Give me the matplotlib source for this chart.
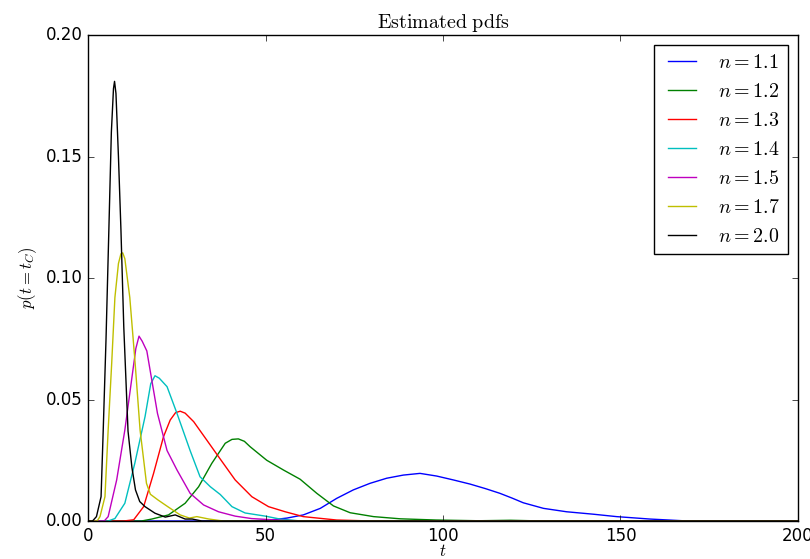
import numpy as np
import matplotlib
matplotlib.use('Agg')
import matplotlib.pyplot as plt

plt.style.use('classic')
plt.rcParams['mathtext.fontset'] = 'cm'

# estimated pdfs, one (t, p) list per n
t_11 = [0, 45, 51.3, 56, 60.6, 65.4, 70, 74.7, 79.4, 84.1, 88.8, 93.5, 98.2, 102.9, 107.6,
        112, 116, 119.5, 122.6, 128.3, 134.8, 142.3, 148.9, 158.3, 167.6, 180, 200]
p_11 = [0, 0, 0.0004, 0.0012, 0.0025, 0.0052, 0.0093, 0.0128, 0.0155, 0.0176, 0.0189, 0.0196,
        0.0185, 0.0169, 0.0152, 0.0133, 0.0114, 0.0094, 0.0075, 0.0052, 0.0038, 0.0028, 0.0018,
        0.0008, 0.0001, 0, 0]

t_12 = [0, 15, 17.9, 22.6, 27.3, 31.1, 34.8, 38.6, 40.5, 42.3, 44, 45.6, 50.3, 55, 59.7, 64.4,
        69.1, 73.8, 80.4, 87.9, 98, 110, 119, 125, 135, 200]
p_12 = [0, 0, 0.0008, 0.0025, 0.0073, 0.0141, 0.0237, 0.032, 0.0336, 0.0338, 0.0328, 0.0306,
        0.025, 0.021, 0.0172, 0.0114, 0.0062, 0.0034, 0.0018, 0.0009, 0.0004, 0.0001, 0.0003,
        0.0001, 0, 0]

t_13 = [0, 10, 12.8, 15.6, 18.4, 21.2, 23.1, 24.6, 25.9, 27.3, 29.7, 33.4, 36.7, 41.4, 46.1,
        50.8, 55.5, 60.6, 70, 80, 200]
p_13 = [0, 0, 0.0005, 0.0059, 0.0196, 0.0347, 0.0416, 0.0446, 0.0452, 0.0444, 0.0409, 0.0333,
        0.0265, 0.0169, 0.01, 0.0059, 0.0038, 0.0018, 0.0004, 0, 0]

t_14 = [0, 5.6, 7.5, 10.3, 13.1, 16, 17.6, 18.8, 20, 22.2, 25, 28.7, 31.5, 34.4, 37.2,
        40.5, 44.2, 49.9, 54, 60, 200]
p_14 = [0, 0, 0.001, 0.0073, 0.0237, 0.043, 0.0565, 0.0598, 0.0588, 0.0553, 0.0443, 0.029,
        0.0182, 0.0141, 0.0109, 0.0059, 0.0033, 0.002, 0.0008, 0, 0]

t_15 = [0, 4.5, 5.6, 8.0, 10.3, 12.2, 13.4, 14.3, 15.2, 16.5, 17.9, 19.5, 22.2, 25, 28.7,
        32.5, 36.7, 41.4, 46, 55.6, 62, 200]
p_15 = [0, 0, 0.0018, 0.0169, 0.0374, 0.058, 0.071, 0.0761, 0.074, 0.070, 0.058, 0.0443,
        0.029, 0.021, 0.0114, 0.0066, 0.0038, 0.002, 0.001, 0.0002, 0, 0]

t_17 = [0, 2.5, 3.3, 4.7, 5.6, 6.6, 7.5, 8.5, 9.2, 9.7, 10.3, 11.7, 13.2, 14.6, 16.4, 17.5,
        19.7, 22.4, 25.9, 28.5, 30.6, 34, 38, 200]
p_17 = [0, 0, 0.0018, 0.010, 0.0374, 0.065, 0.092, 0.106, 0.110, 0.1104, 0.108, 0.092, 0.065,
        0.0374, 0.0155, 0.0110, 0.0086, 0.0059, 0.0025, 0.0012, 0.0018, 0.0008, 0, 0]

t_20 = [0, 1.2, 2.3, 3.6, 4.2, 5.0, 5.8, 6.5, 7.1, 7.4, 7.8, 8.5, 9.2, 10.0, 11.2, 12.3,
        13.3, 14.5, 16, 18.8, 21.7, 24.5, 27.3, 29.3, 32, 200]
p_20 = [0, 0, 0.0018, 0.010, 0.037, 0.075, 0.12, 0.160, 0.178, 0.181, 0.176, 0.150, 0.12,
        0.08, 0.037, 0.022, 0.0128, 0.008, 0.0059, 0.0032, 0.0016, 0.0025, 0.0008, 0.0008, 0, 0]

series = [(t_11, p_11, '1.1'), (t_12, p_12, '1.2'), (t_13, p_13, '1.3'),
          (t_14, p_14, '1.4'), (t_15, p_15, '1.5'), (t_17, p_17, '1.7'),
          (t_20, p_20, '2.0')]
colors = ['b', 'g', 'r', 'c', 'm', 'y', 'k']

fig = plt.figure(figsize=(8.1, 5.59), dpi=100)
ax = fig.add_axes([0.109, 0.068, 0.876, 0.869])
for (t, p, n), c in zip(series, colors):
    ax.plot(t, p, color=c, label=r'$n=%s$' % n)

ax.set_xlim(0, 200)
ax.set_ylim(0, 0.20)
ax.set_xticks([0, 50, 100, 150, 200])
ax.set_yticks([0.0, 0.05, 0.10, 0.15, 0.20])
ax.yaxis.set_major_formatter(matplotlib.ticker.FormatStrFormatter('%.2f'))
ax.set_xlabel(r'$t$', labelpad=-2)
ax.set_ylabel(r'$p(t=t_C)$')
ax.set_title(r'$\mathrm{Estimated\ pdfs}$')
ax.legend(loc='upper right')

fig.savefig('out.png', dpi=100)
